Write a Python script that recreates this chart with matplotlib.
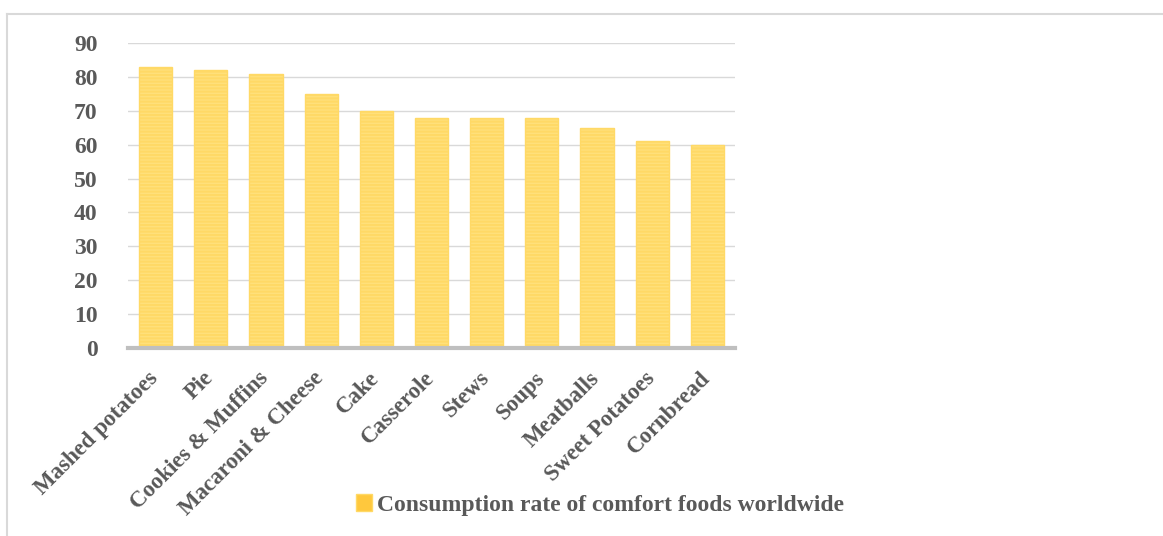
import matplotlib.pyplot as plt
from matplotlib.lines import Line2D
from matplotlib.patches import Patch
from matplotlib.transforms import ScaledTranslation

categories = ['Mashed potatoes', 'Pie', 'Cookies & Muffins', 'Macaroni & Cheese', 'Cake',
              'Casserole', 'Stews', 'Soups', 'Meatballs', 'Sweet Potatoes', 'Cornbread']
values = [83, 82, 81, 75, 70, 68, 68, 68, 65, 61, 60]
series_name = 'Consumption rate of comfort foods worldwide'
yticks = list(range(0, 100, 10))

W, H = 1163, 536
plt.rcParams['font.family'] = ['Liberation Serif', 'DejaVu Serif']
plt.rcParams['font.weight'] = 'bold'
plt.rcParams['hatch.color'] = '#FFC000'
plt.rcParams['hatch.linewidth'] = 1.4
text_color = '#595959'

fig = plt.figure(figsize=(W / 100, H / 100), dpi=100)
ax = fig.add_axes([128 / W, 1 - 348 / H, (735 - 128) / W, (348 - 43) / H])

x = range(len(categories))
# striped gold bars
ax.bar(x, values, width=0.6, color='#FFE07A', edgecolor='#FFD966', linewidth=1.0,
       hatch='-----', zorder=3)

ax.set_xlim(-0.5, len(categories) - 0.5)
ax.set_ylim(0, 90)
ax.set_yticks(yticks)
ax.set_yticklabels([str(t) for t in yticks], fontsize=17, fontweight='bold', color=text_color)
ax.set_xticks(list(x))
ax.set_xticklabels(categories, rotation=45, ha='right', rotation_mode='anchor',
                   fontsize=16.5, fontweight='bold', color=text_color)
ax.tick_params(axis='x', length=0, pad=12)
ax.tick_params(axis='y', length=0, pad=22)

# nudge category labels a little left/down like the original
shift = ScaledTranslation(-8 / 100, -3 / 100, fig.dpi_scale_trans)
for lbl in ax.get_xticklabels():
    lbl.set_transform(lbl.get_transform() + shift)

ax.grid(axis='y', color='#D9D9D9', linewidth=1.0, zorder=0)
for side in ['top', 'right', 'left']:
    ax.spines[side].set_visible(False)
ax.spines['bottom'].set_color('#BFBFBF')
ax.spines['bottom'].set_linewidth(3)
ax.spines['bottom'].set_zorder(4)

handle = Patch(facecolor='#FFC83D', edgecolor='#FFD966')
fig.legend([handle], [series_name], loc='center', bbox_to_anchor=(600 / W, 1 - 505 / H),
           frameon=False, handlelength=0.7, handleheight=0.7,
           handletextpad=0.2, labelcolor=text_color,
           prop={'family': ['Liberation Serif'], 'weight': 'bold', 'size': 17})

# chart border
fig.add_artist(Line2D([7 / W, 1162 / W], [1 - 14 / H, 1 - 14 / H], color='#D9D9D9', linewidth=1.5))
fig.add_artist(Line2D([7 / W, 7 / W], [1 - 14 / H, 0], color='#D9D9D9', linewidth=1.5))

fig.savefig('out.png', dpi=100)
